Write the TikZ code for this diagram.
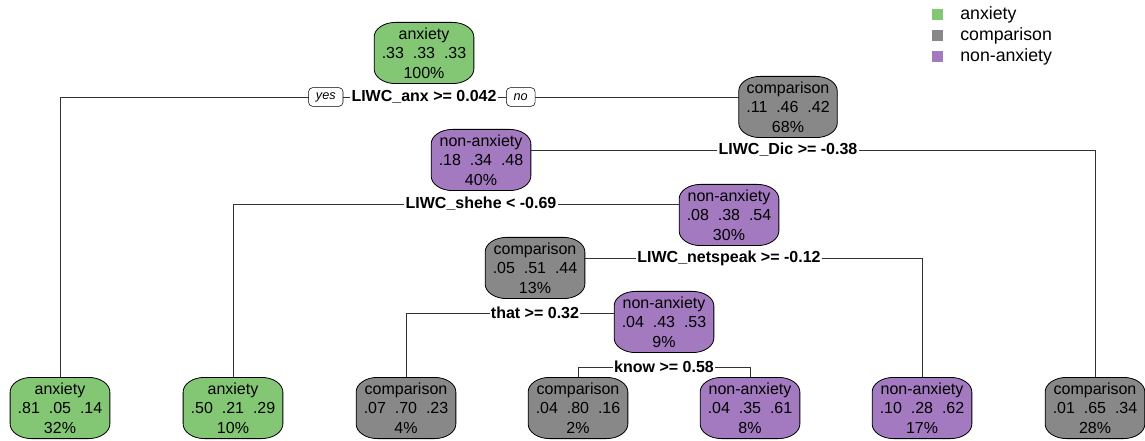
\documentclass[tikz,border=0pt]{standalone}
\usepackage{fontspec}
\setmainfont{Liberation Sans}
\usetikzlibrary{positioning,backgrounds}

\definecolor{anxgreen}{RGB}{131,199,116}
\definecolor{cmpgray}{RGB}{136,136,136}
\definecolor{nonpurple}{RGB}{163,121,192}

\tikzset{
  classbox/.style={align=center, inner xsep=5.5pt, inner ysep=0pt, minimum height=45.5pt,
    font=\fontsize{12}{14.6}\selectfont},
  boxline/.style={draw=black, line width=0.6pt},
  splitlab/.style={fill=white, inner sep=1pt, font=\fontsize{12}{14}\selectfont\bfseries},
  yesno/.style={draw=black, fill=white, rounded corners=3pt, inner xsep=5.5pt, inner ysep=0pt,
    minimum height=14pt, font=\fontsize{9.5}{11}\selectfont\itshape},
  branch/.style={draw=black!80, line width=0.6pt},
  keybox/.style={minimum size=8.25pt, inner sep=0pt},
  keytext/.style={anchor=west, inner sep=0pt, font=\fontsize{13.3}{15}\selectfont}
}
\newcommand{\probs}[5]{#1\\#2\ \ #3\ \ #4\\#5\%}
% box with elliptical corners round a node
\def\cylbox#1#2{\draw[boxline, fill=#2] ([xshift=16pt]#1.north west) -- ([xshift=-16pt]#1.north east)
  arc[start angle=90, end angle=0, x radius=16pt, y radius=11pt] -- ([yshift=11pt]#1.south east)
  arc[start angle=0, end angle=-90, x radius=16pt, y radius=11pt] -- ([xshift=16pt]#1.south west)
  arc[start angle=270, end angle=180, x radius=16pt, y radius=11pt] -- ([yshift=-11pt]#1.north west)
  arc[start angle=180, end angle=90, x radius=16pt, y radius=11pt] -- cycle;}

\begin{document}
\begin{tikzpicture}[x=0.75pt,y=-0.75pt]
	%%%%% START %%%%%
	\useasboundingbox (0,0) rectangle (1145,441);
	
	% inner nodes
	\node[classbox] (n1) at (424,53) {\probs{anxiety}{.33}{.33}{.33}{100}};
	\node[classbox] (n3) at (788,107) {\probs{comparison}{.11}{.46}{.42}{68}};
	\node[classbox] (n6) at (481,160) {\probs{non-anxiety}{.18}{.34}{.48}{40}};
	\node[classbox] (n13) at (729,215) {\probs{non-anxiety}{.08}{.38}{.54}{30}};
	\node[classbox] (n26) at (535,268) {\probs{comparison}{.05}{.51}{.44}{13}};
	\node[classbox] (n53) at (664,322) {\probs{non-anxiety}{.04}{.43}{.53}{9}};
	
	% leaves
	\node[classbox] (l2) at (60,408) {\probs{anxiety}{.81}{.05}{.14}{32}};
	\node[classbox] (l12) at (233,408) {\probs{anxiety}{.50}{.21}{.29}{10}};
	\node[classbox] (l52) at (406,408) {\probs{comparison}{.07}{.70}{.23}{4}};
	\node[classbox] (l106) at (578,408) {\probs{comparison}{.04}{.80}{.16}{2}};
	\node[classbox] (l107) at (750,408) {\probs{non-anxiety}{.04}{.35}{.61}{8}};
	\node[classbox] (l27) at (922,408) {\probs{non-anxiety}{.10}{.28}{.62}{17}};
	\node[classbox] (l7) at (1095,408) {\probs{comparison}{.01}{.65}{.34}{28}};
	
	% split labels
	\node[splitlab] (s1) at (424,97) {LIWC\_anx >= 0.042};
	\node[yesno, left=5pt of s1] (yes) {yes};
	\node[yesno, right=6pt of s1] (no) {no};
	\node[splitlab] (s3) at (788,150) {LIWC\_Dic >= -0.38};
	\node[splitlab] (s6) at (481,204) {LIWC\_shehe < -0.69};
	\node[splitlab] (s13) at (729,258) {LIWC\_netspeak >= -0.12};
	\node[splitlab] (s26) at (535,313) {that >= 0.32};
	\node[splitlab] (s53) at (664,367) {know >= 0.58};
	
	% branches, then the boxes over them
	\begin{scope}[on background layer]
		\draw[branch] (l2.north) |- (n3.west |- s1.center);
		\draw[branch] (n6.east |- s3.center) -| (l7.north);
		\draw[branch] (l12.north) |- (n13.west |- s6.center);
		\draw[branch] (n26.east |- s13.center) -| (l27.north);
		\draw[branch] (l52.north) |- (n53.west |- s26.center);
		\draw[branch] (l106.north) |- (s53.center) -| (l107.north);
		\foreach \n/\c in {n1/anxgreen, n3/cmpgray, n6/nonpurple, n13/nonpurple, n26/cmpgray,
		  n53/nonpurple, l2/anxgreen, l12/anxgreen, l52/cmpgray, l106/cmpgray, l107/nonpurple,
		  l27/nonpurple, l7/cmpgray}
		  {\cylbox{\n}{\c}}
	\end{scope}
	
	% legend
	\node[keybox, fill=anxgreen] (k1) at (937,15) {};
	\node[keybox, fill=cmpgray] (k2) at (937,36) {};
	\node[keybox, fill=nonpurple] (k3) at (937,57) {};
	\node[keytext] (t1) at (960,15) {anxiety};
	\node[keytext] (t2) at (960,36) {comparison};
	\node[keytext] (t3) at (960,57) {non-anxiety};
	
	%%%%% END %%%%%
\end{tikzpicture}
\end{document}
